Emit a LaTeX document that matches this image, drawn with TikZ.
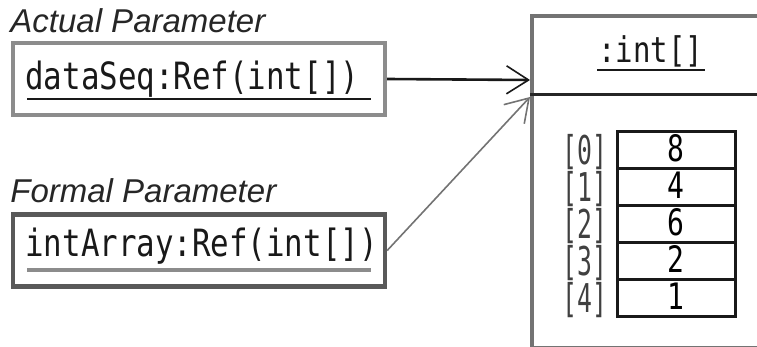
\documentclass[tikz,border=0pt]{standalone}
\usepackage{fontspec}
\setmainfont{Liberation Sans}
\newfontfamily\monof{DejaVu Sans Mono}
\usetikzlibrary{arrows.meta}

% monospace text, stretched vertically like the narrow UML font
\newcommand{\mtext}[3]{\scalebox{1}[#2]{\fontsize{#1}{#1}\monof #3}}

\begin{document}
\begin{tikzpicture}[x=0.5pt,y=-0.5pt,
  caption/.style={font=\fontsize{16.5}{18}\selectfont\itshape, text=black!85, inner sep=0, anchor=base west},
  parambox/.style={draw=#1, line width=2.2pt, minimum width=186pt, minimum height=36pt, inner sep=0},
  label/.style={inner sep=0, anchor=base west, text=black!90},
  cellbox/.style={draw=black!90, line width=1.5pt, minimum width=59pt, minimum height=18.5pt, inner sep=0},
  idx/.style={inner sep=0, text=black!75},
  conn/.style={-{Straight Barb[length=11pt,width=14pt,line width=0.8pt]}},
]
\useasboundingbox (0,0) rectangle (757,347);
\clip (0,0) rectangle (757,347);

% captions
\node[caption] (capA) at (10,33) {Actual Parameter};
\node[caption] (capF) at (10,203) {Formal Parameter};

% parameter boxes
\node[parambox=black!45] (act) at (199,79) {};
\node[label] (actT) at (25,90) {\mtext{15.4}{1.22}{dataSeq:Ref(int[])}};
\draw[black!90, line width=1pt] (27,99) -- (371,99);

\node[parambox=black!65] (frm) at (199,250.5) {};
\node[label] (frmT) at (25,257) {\mtext{15.4}{1.22}{intArray:Ref(int[])}};
\draw[black!45, line width=1.8pt] (27,270) -- (371,270);

% array object
\node[draw=black!55, line width=1.8pt, anchor=north west, minimum width=122.5pt, minimum height=166pt, inner sep=0] (obj) at (530,14) {};
\draw[black!85, line width=1.5pt] (obj.west |- 0,95) -- (obj.east |- 0,95);
\node[label] (objT) at (598,63) {\mtext{14.5}{1.22}{:int[]}};
\draw[black!90, line width=1pt] (597,70) -- (705,70);

\foreach \v [count=\i from 0] in {8,4,6,2,1} {
  \node[cellbox] (cell\i) at (676,{150+37*\i}) {};
  \node[inner sep=0, anchor=base] (val\i) at (676,{162+37*\i}) {\mtext{14}{1.3}{\v}};
  \node[idx, anchor=base] (idx\i) at (585,{165+37*\i}) {\mtext{12.4}{1.6}{[\i]}};
}

% references from the parameters to the array
\coordinate (tipA) at (530,80);
\coordinate (tipF) at (530,97);
\draw[conn, black!90, line width=1.3pt] (act.east) -- (tipA);
\draw[conn, black!55, line width=0.8pt] (frm.east) -- (tipF);
\end{tikzpicture}
\end{document}
